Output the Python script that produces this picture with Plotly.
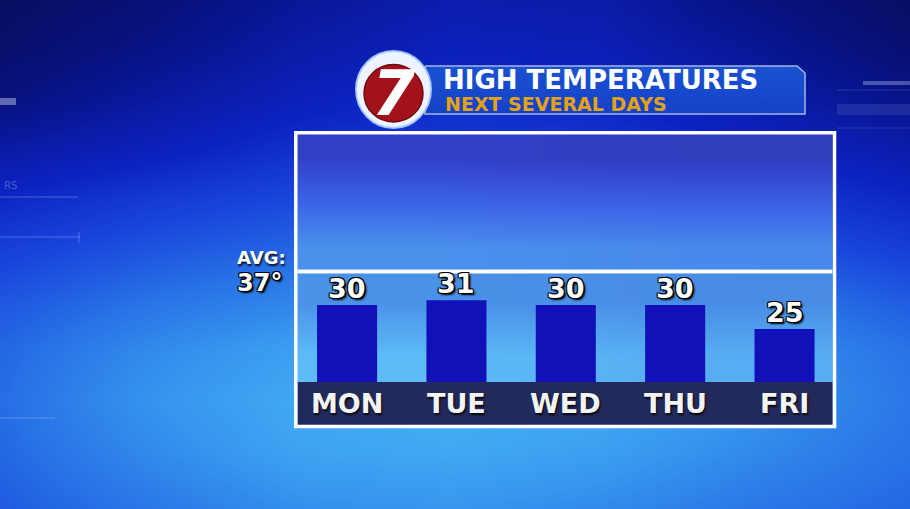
import plotly.graph_objects as go

# ---------------- data ----------------
days = ["MON", "TUE", "WED", "THU", "FRI"]
highs = [30, 31, 30, 30, 25]
avg_high = 37
title_main = "HIGH TEMPERATURES"
title_sub = "NEXT SEVERAL DAYS"
avg_text = "AVG:"
logo_text = "7"

W, H = 910, 509

# ---------------- background (decorative gradient grid) ----------------
bg_x = [0, 150, 300, 450, 600, 750, 910]
bg_y = [0, 50, 100, 150, 200, 250, 300, 350, 400, 450, 509]
bg_z = [
    [0.04, 0.12, 0.24, 0.32, 0.30, 0.16, 0.05],
    [0.08, 0.18, 0.30, 0.37, 0.35, 0.24, 0.10],
    [0.15, 0.27, 0.37, 0.43, 0.41, 0.32, 0.19],
    [0.29, 0.37, 0.46, 0.50, 0.48, 0.41, 0.31],
    [0.42, 0.50, 0.56, 0.58, 0.56, 0.50, 0.42],
    [0.52, 0.60, 0.66, 0.68, 0.66, 0.60, 0.52],
    [0.60, 0.70, 0.78, 0.80, 0.78, 0.72, 0.62],
    [0.66, 0.80, 0.90, 0.92, 0.90, 0.82, 0.70],
    [0.68, 0.84, 0.95, 0.98, 0.95, 0.85, 0.72],
    [0.66, 0.80, 0.92, 0.95, 0.90, 0.80, 0.70],
    [0.62, 0.72, 0.82, 0.85, 0.80, 0.72, 0.66],
]
bg_scale = [
    [0.0, "rgb(6,12,85)"],
    [0.2, "rgb(8,20,140)"],
    [0.4, "rgb(12,35,195)"],
    [0.55, "rgb(25,70,220)"],
    [0.7, "rgb(40,115,230)"],
    [0.85, "rgb(55,150,238)"],
    [1.0, "rgb(68,178,246)"],
]

# box panels (edges in pixel space)
up_x = [297.5, 565, 832.5]
up_y = [134.5, 180, 225, 269.5]
up_z = [[0.12, 0.05], [0.5, 0.45], [1.0, 0.92]]
up_scale = [[0.0, "rgb(46,58,180)"], [0.12, "rgb(50,64,200)"],
            [0.5, "rgb(60,100,232)"], [1.0, "rgb(74,145,236)"]]

lo_x = [297.5, 565, 832.5]
lo_y = [273.5, 328, 382]
lo_z = [[0.1, 0.0], [0.95, 0.65]]
lo_scale = [[0.0, "rgb(72,140,230)"], [1.0, "rgb(94,190,248)"]]

fig = go.Figure()

fig.add_trace(go.Heatmap(x=bg_x, y=bg_y, z=bg_z, colorscale=bg_scale, zmin=0, zmax=1,
                         zsmooth="best", showscale=False, hoverinfo="skip",
                         xaxis="x", yaxis="y"))
fig.add_trace(go.Heatmap(x=up_x, y=up_y, z=up_z, colorscale=up_scale, zmin=0, zmax=1,
                         zsmooth="best", showscale=False, hoverinfo="skip",
                         xaxis="x", yaxis="y"))
fig.add_trace(go.Heatmap(x=lo_x, y=lo_y, z=lo_z, colorscale=lo_scale, zmin=0, zmax=1,
                         zsmooth="best", showscale=False, hoverinfo="skip",
                         xaxis="x", yaxis="y"))

# title banner
fig.add_trace(go.Scatter(x=[425, 797, 805, 805, 425, 425], y=[66, 66, 73, 114, 114, 66],
                         mode="lines", fill="toself",
                         fillgradient=dict(type="vertical",
                                           colorscale=[[0, "#1440c8"], [1, "#1a52d2"]]),
                         line=dict(color="#a4b6e2", width=1.5),
                         hoverinfo="skip", xaxis="x", yaxis="y"))

# bars
fig.add_trace(go.Bar(x=days, y=highs, marker=dict(color="#1210b8", line=dict(width=0)),
                     xaxis="x2", yaxis="y2", hoverinfo="skip"))

shapes = []
# faint HUD decorations
deco = dict(xref="x", yref="y", layer="above")
shapes += [
    dict(type="line", x0=0, x1=78, y0=197, y1=197, line=dict(color="rgba(160,190,255,0.25)", width=1.5), **deco),
    dict(type="line", x0=0, x1=80, y0=237, y1=237, line=dict(color="rgba(160,190,255,0.25)", width=1.5), **deco),
    dict(type="line", x0=79, x1=79, y0=232, y1=243, line=dict(color="rgba(160,190,255,0.25)", width=1.5), **deco),
    dict(type="rect", x0=0, x1=16, y0=98, y1=105, fillcolor="rgba(200,210,240,0.45)", line=dict(width=0), **deco),
    dict(type="line", x0=0, x1=55, y0=418, y1=418, line=dict(color="rgba(170,200,255,0.25)", width=1.5), **deco),
    dict(type="rect", x0=863, x1=910, y0=81, y1=85, fillcolor="rgba(190,205,240,0.35)", line=dict(width=0), **deco),
    dict(type="rect", x0=837, x1=910, y0=104, y1=115, fillcolor="rgba(150,170,230,0.15)", line=dict(width=0), **deco),
    dict(type="line", x0=837, x1=910, y0=90, y1=90, line=dict(color="rgba(150,180,255,0.2)", width=1), **deco),
    dict(type="line", x0=837, x1=910, y0=128, y1=128, line=dict(color="rgba(150,180,255,0.2)", width=1), **deco),
]
# day strip
shapes.append(dict(type="rect", xref="x", yref="y", x0=297.5, x1=832.5, y0=382, y1=425,
                   fillcolor="#222a5c", line=dict(width=0), layer="above"))
# box border
shapes.append(dict(type="rect", xref="x", yref="y", x0=295.8, x1=834.5, y0=132.8, y1=426.5,
                   line=dict(color="white", width=3.5), layer="above"))
# average line (value-positioned)
shapes.append(dict(type="line", xref="x", yref="y2", x0=297.5, x1=832.5, y0=avg_high, y1=avg_high,
                   line=dict(color="white", width=4), layer="above"))
# logo
shapes.append(dict(type="circle", xref="x", yref="y", x0=356, x1=431, y0=51, y1=128,
                   fillcolor="#eef4ff", line=dict(color="rgba(170,205,255,0.9)", width=2), layer="above"))
shapes.append(dict(type="circle", xref="x", yref="y", x0=364, x1=423, y0=64.5, y1=122,
                   fillcolor="#a3111b", line=dict(color="#6e0a10", width=1.5), layer="above"))

outline = "-1px -1px 0 #000, 1px -1px 0 #000, -1px 1px 0 #000, 1px 1px 0 #000, 2px 2px 2px #000"
soft = "1px 2px 2px rgba(0,0,0,0.85)"

annotations = []
for d, v in zip(days, highs):
    annotations.append(dict(x=d, y=v, xref="x2", yref="y2", text=str(v), showarrow=False,
                            xanchor="center", yanchor="bottom", yshift=-1,
                            font=dict(family="DejaVu Sans", size=27, color="white",
                                      weight="bold", shadow=outline)))
    annotations.append(dict(x=d, y=403, xref="x2", yref="y", text=d, showarrow=False,
                            xanchor="center", yanchor="middle",
                            font=dict(family="DejaVu Sans", size=27, color="#f4f4f4",
                                      weight="bold", shadow=soft)))

annotations += [
    dict(x=288, y=257, xref="x", yref="y", text=avg_text, showarrow=False, xanchor="right",
         yanchor="middle", font=dict(family="DejaVu Sans", size=18, color="white",
                                     weight="bold", shadow=soft)),
    dict(x=284, y=283, xref="x", yref="y", text=f"{avg_high}°", showarrow=False, xanchor="right",
         yanchor="middle", font=dict(family="DejaVu Sans", size=24, color="white",
                                     weight="bold", shadow=outline)),
    dict(x=442, y=80, xref="x", yref="y", text=title_main, showarrow=False, xanchor="left",
         yanchor="middle", borderpad=0,
         font=dict(family="DejaVu Sans", size=26, color="white", weight="bold")),
    dict(x=444, y=104, xref="x", yref="y", text=title_sub, showarrow=False, xanchor="left",
         yanchor="middle", borderpad=0,
         font=dict(family="DejaVu Sans", size=19, color="#e3a214", weight="bold")),
    dict(x=394, y=93, xref="x", yref="y", text=logo_text, showarrow=False, xanchor="center",
         yanchor="middle", font=dict(family="DejaVu Sans", size=62, color="white",
                                     weight="bold", style="italic")),
    dict(x=2, y=185, xref="x", yref="y", text="RS", showarrow=False, xanchor="left",
         yanchor="middle", font=dict(family="DejaVu Sans", size=10, color="rgba(170,190,240,0.4)")),
]

fig.update_layout(
    width=W, height=H, autosize=False,
    margin=dict(l=0, r=0, t=0, b=0, pad=0),
    paper_bgcolor="#1a40c8", plot_bgcolor="rgba(0,0,0,0)",
    showlegend=False,
    xaxis=dict(range=[0, W], domain=[0, 1], visible=False, fixedrange=True),
    yaxis=dict(range=[H, 0], domain=[0, 1], visible=False, fixedrange=True),
    xaxis2=dict(domain=[292.4 / W, 839.2 / W], anchor="y2", visible=False, type="category",
                fixedrange=True),
    yaxis2=dict(domain=[1 - 382 / H, 1 - 132 / H], range=[13.93, 66.12], anchor="x2",
                visible=False, fixedrange=True),
    bargap=0.451,
    shapes=shapes,
    annotations=annotations,
)

fig.write_html("out.html", config={"displayModeBar": False},
               post_script="document.body.style.margin='0';document.body.style.padding='0';"
                           "document.body.style.overflow='hidden';")
